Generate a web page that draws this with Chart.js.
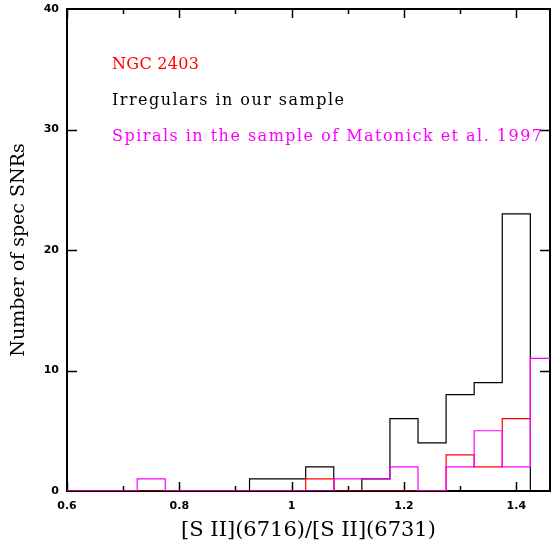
<!DOCTYPE html>
<html>
<head>
<meta charset="utf-8">
<script src="https://cdn.jsdelivr.net/npm/chart.js@4/dist/chart.umd.min.js"></script>
<style>
  body { margin: 0; background: #fff; }
  #wrap { width: 552px; height: 546px; }
</style>
</head>
<body>
<div id="wrap"><canvas id="myChart" width="552" height="546"></canvas></div>
<script>
// bin centres of the [S II] ratio histogram (width 0.05)
const binCenters = [0.60, 0.65, 0.70, 0.75, 0.80, 0.85, 0.90, 0.95, 1.00,
                    1.05, 1.10, 1.15, 1.20, 1.25, 1.30, 1.35, 1.40, 1.45];
const binWidth = 0.05;

// counts per bin (NGC 2403 histogram stops at the 1.40 bin)
const ngc2403    = [0, 0, 0, 0, 0, 0, 0, 0, 0, 1, 0, 0, 0, 0, 3, 2, 6];
const irregulars = [0, 0, 0, 0, 0, 0, 0, 1, 1, 2, 0, 1, 6, 4, 8, 9, 23, 0];
const spirals    = [0, 0, 0, 1, 0, 0, 0, 0, 0, 0, 1, 1, 2, 0, 2, 5, 2, 11];

const xMajorTicks = [0.6, 0.8, 1.0, 1.2, 1.4];
const xMinorTicks = [0.7, 0.9, 1.1, 1.3];
const yTicks = [0, 10, 20, 30, 40];

const labels = [
  { text: 'NGC 2403', color: '#ff0000' },
  { text: 'Irregulars in our sample', color: '#000000' },
  { text: 'Spirals in the sample of Matonick et al. 1997', color: '#ff00ff' },
];

// turn bin counts into step points (left edges + final right edge)
function toSteps(counts) {
  const pts = counts.map((c, i) => ({ x: binCenters[i] - binWidth / 2, y: c }));
  const last = counts.length - 1;
  pts.push({ x: binCenters[last] + binWidth / 2, y: counts[last] });
  return pts;
}

const frame = {
  id: 'frame',
  beforeDatasetsDraw(chart) {
    const { ctx, chartArea: { left, right, top, bottom }, scales: { x, y } } = chart;
    ctx.save();
    ctx.strokeStyle = '#000';
    ctx.lineWidth = 1.5;
    ctx.beginPath();
    xMajorTicks.forEach(v => {
      const px = Math.round(x.getPixelForValue(v)) + 0.5;
      ctx.moveTo(px, bottom); ctx.lineTo(px, bottom - 9);
      ctx.moveTo(px, top); ctx.lineTo(px, top + 9);
    });
    xMinorTicks.forEach(v => {
      const px = Math.round(x.getPixelForValue(v)) + 0.5;
      ctx.moveTo(px, bottom); ctx.lineTo(px, bottom - 5);
      ctx.moveTo(px, top); ctx.lineTo(px, top + 5);
    });
    yTicks.slice(1, -1).forEach(v => {
      const py = Math.round(y.getPixelForValue(v)) + 0.5;
      ctx.moveTo(left, py); ctx.lineTo(left + 10, py);
      ctx.moveTo(right, py); ctx.lineTo(right - 10, py);
    });
    ctx.stroke();
    ctx.lineWidth = 2;
    ctx.strokeRect(left, top, right - left, bottom - top);
    ctx.restore();
  },
  afterDraw(chart) {
    const { ctx, chartArea: { left } } = chart;
    const widths = [87, 232, 430];
    const baselines = [69, 105, 141];
    ctx.save();
    ctx.font = '16px "DejaVu Serif"';
    ctx.textBaseline = 'alphabetic';
    ctx.textAlign = 'left';
    labels.forEach((l, i) => {
      ctx.letterSpacing = '0px';
      const w = ctx.measureText(l.text).width;
      const sp = (widths[i] - w) / (l.text.length - 1);
      ctx.letterSpacing = sp.toFixed(2) + 'px';
      ctx.fillStyle = l.color;
      ctx.fillText(l.text, left + 45, baselines[i]);
    });
    ctx.letterSpacing = '0px';
    ctx.restore();
  }
};

const ctx = document.getElementById('myChart');

const config = {
  type: 'line',
  data: {
    datasets: [
      { label: 'Spirals', data: toSteps(spirals), borderColor: '#ff00ff' },
      { label: 'NGC 2403', data: toSteps(ngc2403), borderColor: '#ff0000' },
      { label: 'Irregulars', data: toSteps(irregulars), borderColor: '#000000' },
    ].map(d => Object.assign(d, { stepped: true, borderWidth: 1.2, pointRadius: 0, fill: false })),
  },
  options: {
    responsive: false,
    animation: false,
    layout: { padding: { top: 9, right: 2 } },
    plugins: { legend: { display: false }, tooltip: { enabled: false } },
    scales: {
      x: {
        type: 'linear',
        min: 0.6,
        max: 1.46,
        afterBuildTicks: (scale) => { scale.ticks = xMajorTicks.map(v => ({ value: v })); },
        afterFit: (scale) => { scale.height = 55; scale.paddingRight = 0; },
        grid: { display: false, drawTicks: false },
        border: { display: false },
        ticks: {
          color: '#000',
          padding: 9,
          maxRotation: 0,
          font: { family: '"DejaVu Sans"', size: 11, weight: 'bold' },
          callback: (v) => String(v),
        },
        title: {
          display: true,
          text: '[S II](6716)/[S II](6731)',
          color: '#000',
          font: { family: '"DejaVu Serif"', size: 21 },
          padding: { top: 0, bottom: 3 },
        },
      },
      y: {
        min: 0,
        max: 40,
        afterBuildTicks: (scale) => { scale.ticks = yTicks.map(v => ({ value: v })); },
        afterFit: (scale) => { scale.width = 67; scale.paddingTop = 0; scale.paddingBottom = 0; },
        grid: { display: false, drawTicks: false },
        border: { display: false },
        ticks: {
          color: '#000',
          padding: 8,
          font: { family: '"DejaVu Sans"', size: 11, weight: 'bold' },
        },
        title: {
          display: true,
          text: 'Number of spec SNRs',
          color: '#000',
          font: { family: '"DejaVu Serif"', size: 19 },
          padding: { top: 8, bottom: 0 },
        },
      },
    },
  },
  plugins: [frame],
};

new Chart(ctx, config);
</script>
</body>
</html>
